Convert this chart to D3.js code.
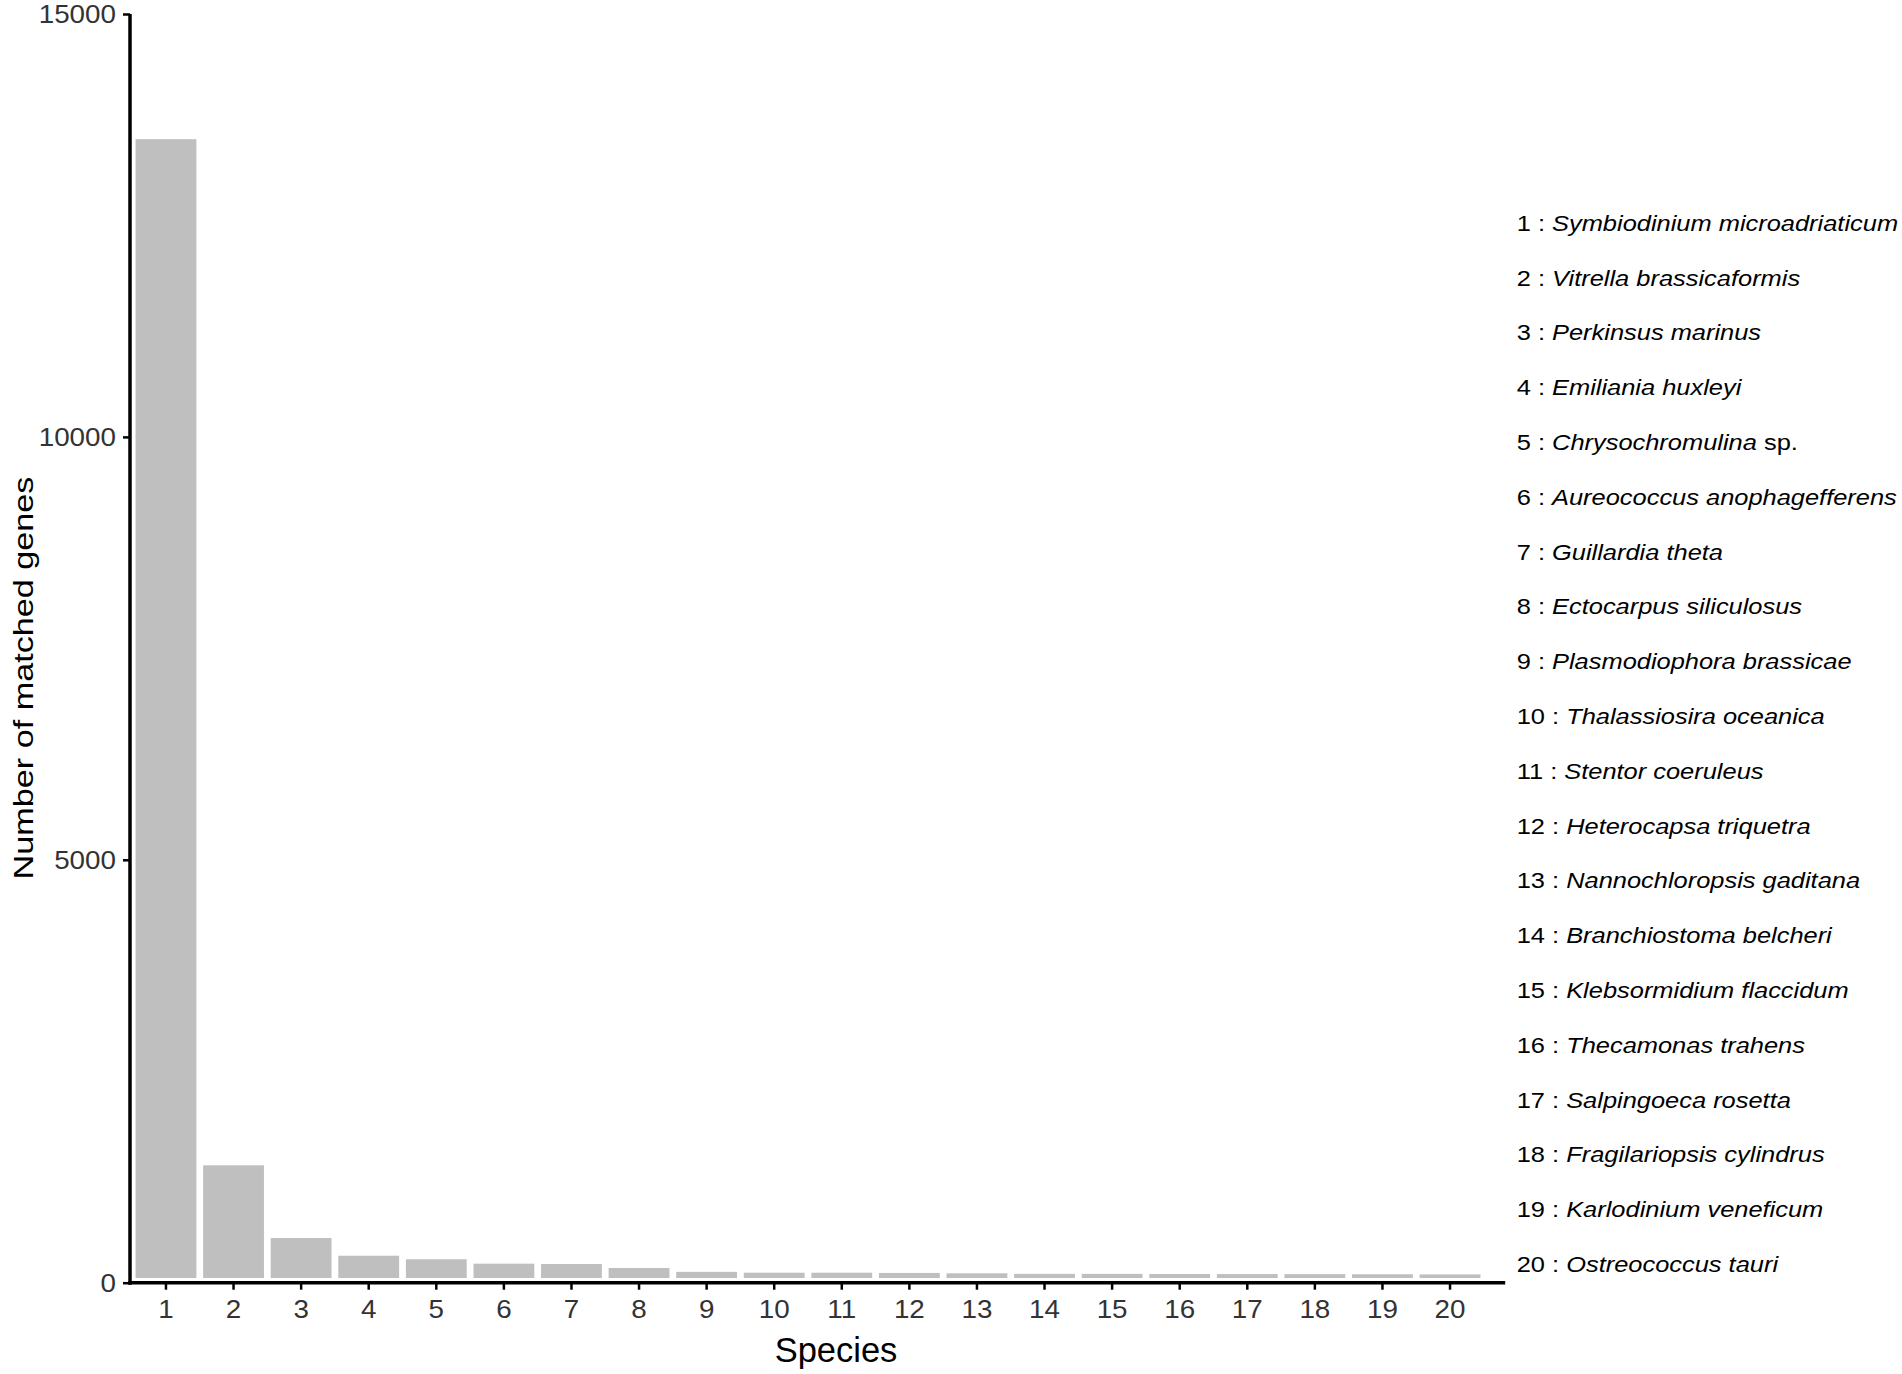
<!DOCTYPE html>
<html>
<head>
<meta charset="utf-8">
<script src="https://cdn.jsdelivr.net/npm/d3@7"></script>
<style>
  html, body { margin: 0; padding: 0; background: #fff; }
  svg { display: block; font-family: "Liberation Sans", Arial, Helvetica, sans-serif; }
</style>
</head>
<body>
<svg id="chart" width="1902" height="1374"></svg>
<script>
// ---- data ----
const speciesIds = [1,2,3,4,5,6,7,8,9,10,11,12,13,14,15,16,17,18,19,20];
const matchedGenes = [13520,1388,528,319,277,225,221,174,128,118,118,115,111,105,104,103,102,101,100,98];
const speciesGenus = ["Symbiodinium microadriaticum","Vitrella brassicaformis","Perkinsus marinus","Emiliania huxleyi","Chrysochromulina","Aureococcus anophagefferens","Guillardia theta","Ectocarpus siliculosus","Plasmodiophora brassicae","Thalassiosira oceanica","Stentor coeruleus","Heterocapsa triquetra","Nannochloropsis gaditana","Branchiostoma belcheri","Klebsormidium flaccidum","Thecamonas trahens","Salpingoeca rosetta","Fragilariopsis cylindrus","Karlodinium veneficum","Ostreococcus tauri"];
const speciesSuffix = ["","","",""," sp.","","","","","","","","","","","","","","",""];
const yTicks = [0,5000,10000,15000];
const xTitle = "Species";
const yTitle = "Number of matched genes";

// ---- layout ----
const svg = d3.select("#chart");
const axisX = 130;        // y-axis line position
const zeroY = 1282.7;
const x = d3.scaleBand().domain(speciesIds).range([128.8, 1487.2]).paddingInner(0.1).paddingOuter(0.1);
const y = d3.scaleLinear().domain([0, 15000]).range([zeroY, 14]);
const barGap = 4.7;

// bars
svg.append("g").selectAll("rect").data(speciesIds).join("rect")
  .attr("x", d => x(d))
  .attr("width", x.bandwidth())
  .attr("y", (d,i) => y(matchedGenes[i]))
  .attr("height", (d,i) => Math.max(0, y(0) - barGap - y(matchedGenes[i])))
  .attr("fill", "#bfbfbf");

// y axis
const tickStretch = 1.07;
const gy = svg.append("g").attr("transform", `translate(${axisX},0)`)
  .call(d3.axisLeft(y).tickValues(yTicks).tickFormat(d3.format("d")).tickSize(7).tickPadding(7).tickSizeOuter(0));
gy.select(".domain").remove();
gy.selectAll(".tick line").attr("stroke", "#000").attr("stroke-width", 2.5);
gy.selectAll(".tick text").attr("font-size", 26).attr("fill", "#333")
  .attr("font-family", "Liberation Sans, Arial, sans-serif")
  .attr("x", -14 / tickStretch).attr("transform", `scale(${tickStretch},1)`);
svg.append("line").attr("x1", axisX).attr("x2", axisX).attr("y1", y(15000)).attr("y2", zeroY + 2)
  .attr("stroke", "#000").attr("stroke-width", 3.5);

// x axis
const gx = svg.append("g").attr("transform", `translate(0,${zeroY})`)
  .call(d3.axisBottom(x).tickSize(7).tickPadding(10).tickSizeOuter(0));
gx.select(".domain").remove();
gx.selectAll(".tick line").attr("stroke", "#000").attr("stroke-width", 2.5);
gx.selectAll(".tick text").attr("font-size", 26).attr("fill", "#333")
  .attr("font-family", "Liberation Sans, Arial, sans-serif")
  .attr("transform", `scale(${tickStretch},1)`);
svg.append("line").attr("x1", axisX - 1.75).attr("x2", x.range()[1] + 18).attr("y1", zeroY).attr("y2", zeroY)
  .attr("stroke", "#000").attr("stroke-width", 3.5);

// axis titles
svg.append("text").attr("x", 836).attr("y", 1362).attr("text-anchor", "middle")
  .attr("font-size", 34.5).attr("fill", "#000").text(xTitle);
svg.append("text").attr("transform", "translate(33,678) rotate(-90) scale(1.2,1)")
  .attr("text-anchor", "middle").attr("font-size", 28.5).attr("fill", "#000").text(yTitle);

// species key
const legendX = 1516.7, legendY0 = 230.7, legendStep = 54.8, legendStretch = 1.12;
const key = svg.append("g");
speciesIds.forEach((id, i) => {
  const t = key.append("text")
    .attr("transform", `translate(${legendX},${legendY0 + i * legendStep}) scale(${legendStretch},1)`)
    .attr("font-size", 22.7).attr("fill", "#000");
  t.append("tspan").text(id + " : ");
  t.append("tspan").attr("font-style", "italic").text(speciesGenus[i]);
  if (speciesSuffix[i]) t.append("tspan").text(speciesSuffix[i]);
});
</script>
</body>
</html>
